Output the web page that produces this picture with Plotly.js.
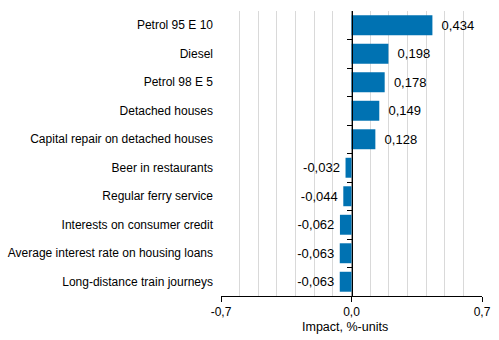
<!DOCTYPE html>
<html><head><meta charset="utf-8">
<script src="https://cdn.plot.ly/plotly-3.0.1.min.js"></script>
<style>html,body{margin:0;padding:0;background:#fff}#chart{width:499px;height:340px}</style>
</head><body><div id="chart"></div>
<script>
const categories = ["Petrol 95 E 10","Diesel","Petrol 98 E 5","Detached houses","Capital repair on detached houses","Beer in restaurants","Regular ferry service","Interests on consumer credit","Average interest rate on housing loans","Long-distance train journeys"];
const values = [0.434,0.198,0.178,0.149,0.128,-0.032,-0.044,-0.062,-0.063,-0.063];
const xTickVals = [-0.7, 0, 0.7];
const xTickText = ["-0,7","0,0","0,7"];
const xTitle = "Impact, %-units";

const fmt = v => {
  const s = v.toFixed(3).replace('.', ',');
  return v >= 0 ? '\u00a0\u2009' + s : s + '\u2009';
};
const boundaries = categories.slice(0, -1).map((_, i) => i + 0.5);
const font = {family: "Liberation Sans, Arial, sans-serif", size: 12, color: "#000"};

const data = [{
  type: 'bar', orientation: 'h', y: categories, x: values,
  marker: {color: '#0072b2'}, width: 0.7,
  text: values.map(fmt), textposition: 'outside', cliponaxis: false,
  textfont: {family: font.family, size: 13, color: '#000'}, hoverinfo: 'none'
},{
  type: 'scatter', mode: 'markers', x: [0], y: [0], yaxis: 'y2',
  marker: {opacity: 0}, hoverinfo: 'none', showlegend: false
}];

const layout = {
  width: 499, height: 340,
  margin: {l: 221, r: 17, t: 11, b: 44},
  paper_bgcolor: '#fff', plot_bgcolor: '#fff',
  showlegend: false, font: font,
  xaxis: {
    range: [-0.7, 0.7], tickmode: 'array', tickvals: xTickVals, ticktext: xTickText,
    showgrid: true, gridcolor: '#9a9a9a', gridwidth: 1,
    minor: {dtick: 0.1, tick0: 0, showgrid: true, gridcolor: '#d9d9d9', gridwidth: 1, ticks: ''},
    zeroline: false, showline: true, linecolor: '#000', linewidth: 1,
    ticks: 'outside', ticklen: 5, tickcolor: '#000', fixedrange: true
  },
  yaxis: {
    type: 'category', autorange: 'reversed', showgrid: false, zeroline: false,
    showline: false, ticks: '', ticklabelstandoff: 7, fixedrange: true
  },
  yaxis2: {
    overlaying: 'y', anchor: 'free', position: 0.5, range: [9.5, -0.5],
    tickmode: 'array', tickvals: boundaries, showticklabels: false,
    ticks: 'outside', ticklen: 5, tickcolor: '#000',
    showline: true, linecolor: '#000', linewidth: 1,
    showgrid: false, zeroline: false, fixedrange: true
  },
  annotations: [{
    text: xTitle, xref: 'paper', yref: 'paper', x: 0.475, y: 0,
    yshift: -31, xanchor: 'center', yanchor: 'middle', showarrow: false,
    font: {family: font.family, size: 12.5, color: '#000'}
  }]
};
Plotly.newPlot('chart', data, layout, {staticPlot: true, displayModeBar: false});
</script></body></html>
